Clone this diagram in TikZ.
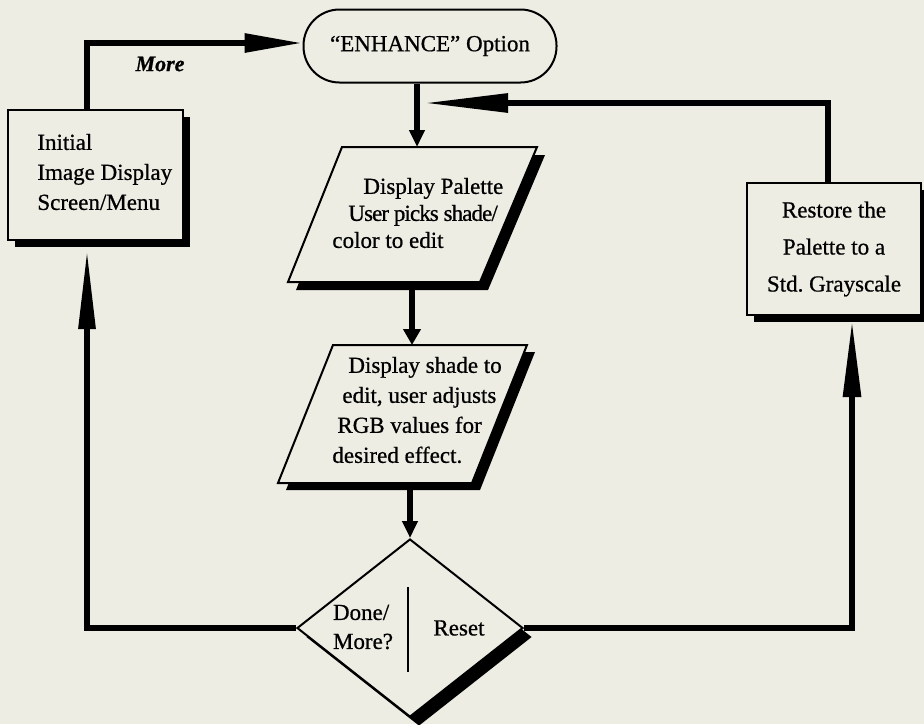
\documentclass[tikz,border=0pt]{standalone}
\usepackage{fontspec}
\setmainfont{Liberation Serif}[FakeBold=0.7]
\usetikzlibrary{shapes.geometric,arrows.meta,shadows}
\definecolor{bg}{RGB}{237,237,228}
\tikzset{
  box/.style={draw=black, line width=1pt, fill=bg, inner sep=0pt},
  shad/.style={drop shadow={fill=black, opacity=1, shadow xshift=3.5pt, shadow yshift=-3.5pt}},
  shadowfill/.style={fill=black},
  flow/.style={line width=3pt, draw=black},
  lbl/.style={inner sep=0pt, font=\fontsize{11.5}{14}\selectfont},
}
\begin{document}
\begin{tikzpicture}[x=0.5pt,y=-0.5pt]
\useasboundingbox (0,0) rectangle (924,724);
\fill[bg] (0,0) rectangle (924,724);

% terminal and boxes
\node[box, rounded corners=18pt, minimum width=126.5pt, minimum height=36.5pt, lbl] (enh) at (430,46) {``ENHANCE'' Option};
\node[box, shad, minimum width=87.5pt, minimum height=65pt] (init) at (95.5,175) {};
\node[lbl, align=left, anchor=west, font=\fontsize{11.5}{15}\selectfont] (initT) at (37,172) {Initial\\Image Display\\Screen/Menu};
\node[box, shad, minimum width=87pt, minimum height=66pt, align=center, font=\fontsize{11.5}{18.5}\selectfont] (rest) at (834,249) {Restore the\\Palette to a\\Std.\ Grayscale};

% palette parallelogram
\coordinate (palTL) at (342,147);
\coordinate (palTR) at (537,147);
\coordinate (palBR) at (480,282);
\coordinate (palBL) at (288,282);
\fill[shadowfill] ([shift={(8,8)}]palTL) -- ([shift={(8,8)}]palTR) -- ([shift={(8,8)}]palBR) -- ([shift={(8,8)}]palBL) -- cycle;
\filldraw[box] (palTL) -- (palTR) -- (palBR) -- (palBL) -- cycle;
\node[lbl, align=left, anchor=west, font=\fontsize{11.5}{13.5}\selectfont] (palT) at (332,213) {\hspace*{15.5pt}Display Palette\\\hspace*{8pt}{\addfontfeature{LetterSpace=-4}User picks shade/}\\color to edit};

% shade parallelogram
\coordinate (shTL) at (333,345);
\coordinate (shTR) at (527,345);
\coordinate (shBR) at (472,483);
\coordinate (shBL) at (278,483);
\fill[shadowfill] ([shift={(8,7)}]shTL) -- ([shift={(8,7)}]shTR) -- ([shift={(8,7)}]shBR) -- ([shift={(8,7)}]shBL) -- cycle;
\filldraw[box] (shTL) -- (shTR) -- (shBR) -- (shBL) -- cycle;
\node[lbl, align=left, anchor=west, font=\fontsize{11.5}{15}\selectfont] (shT) at (332,410) {\hspace*{8pt}Display shade to\\\hspace*{5pt}edit, user adjusts\\\hspace*{2.5pt}RGB values for\\desired effect.};

% decision
\node[box, diamond, drop shadow={fill=black, opacity=1, shadow xshift=4.5pt, shadow yshift=-4.5pt}, minimum width=113pt, minimum height=89pt] (dia) at (410,628) {};
\node[lbl, align=left, font=\fontsize{11.5}{14.5}\selectfont] (diaT) at (363,627) {Done/\\More?};
\node[lbl] (reset) at (459,628) {Reset};
\coordinate (divA) at (408,587);
\coordinate (divB) at (408,672);
\draw[line width=1pt] (divA) -- (divB);
\node[inner sep=0pt, font=\fontsize{11}{13}\bfseries\itshape\selectfont] (more) at (160,64) {More};

% helper coordinates
\coordinate (moreX) at (87,43);
\coordinate (fbX) at (828,103);
\coordinate (fbTip) at (424,103);
\coordinate (v1) at (417,0);
\coordinate (v2) at (412,0);
\coordinate (v3) at (410,0);
\coordinate (rX) at (852,628);
\coordinate (lX) at (87,628);

% connectors
\draw[flow, -{Triangle[length=29pt,width=9pt]}] (init.north -| moreX) |- (enh.west |- moreX);
\draw[flow, -{Triangle[length=42pt,width=9pt]}] (rest.north -| fbX) |- (fbTip);
\draw[flow, -{Triangle[length=8.5pt,width=7.5pt]}] (enh.south -| v1) -- (palTL -| v1);
\draw[flow, -{Triangle[length=8pt,width=8.5pt]}] ([yshift=-4pt]palBL -| v2) -- (shTL -| v2);
\draw[flow, -{Triangle[length=8.5pt,width=7.5pt]}] ([yshift=-3.5pt]shBL -| v3) -- (dia.north);
\draw[flow, -{Triangle[length=40pt,width=8pt]}] (dia.west) -| ([yshift=-4pt]init.south -| lX);
\draw[flow, -{Triangle[length=38.5pt,width=8.5pt]}] (dia.east) -| ([yshift=-2pt]rest.south -| rX);
\end{tikzpicture}
\end{document}
